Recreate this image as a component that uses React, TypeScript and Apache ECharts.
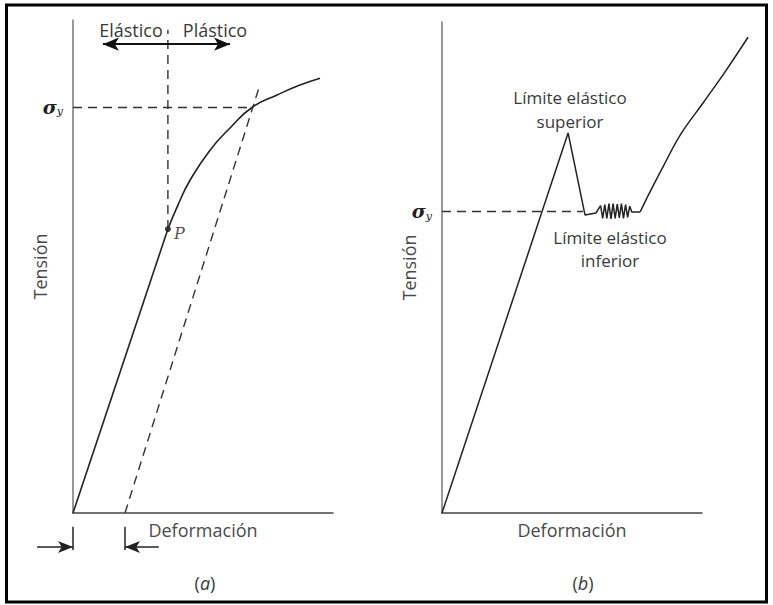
import React, { useEffect, useRef } from "react";
import * as echarts from "echarts";

// ---------- Panel (a): material without a sharp yield point ----------
const aElasticX = [0, 36.5];
const aElasticY = [0, 57.6];
const aPlasticX = [36.5, 40.4, 45.0, 52.7, 60.4, 69.2, 78.5, 87.3, 95.0];
const aPlasticY = [57.6, 62.5, 67.5, 73.6, 78.1, 82.4, 84.8, 86.8, 88.2];
const aUnloadX = [20.0, 71.5];
const aUnloadY = [0, 86.2];
const aSigmaY = 82.4;
const aSigmaEndX = 69.2;
const aPointP = [36.5, 57.6];
const aGuideTopY = 98.0;
const aRangeArrowY = 95.1;
const aRangeArrowX = [11.5, 60.4];
const aStrainTickX = [0, 20.0];
const aStrainTickY = [-2.8, -7.5];
const aStrainArrowY = -6.9;
const aStrainArrowFromX = [-13.8, 33.0];

// ---------- Panel (b): material with upper / lower yield point ----------
// elastic rise, upper yield, drop, lower-yield serrations
const bX = [0, 48.5, 55.0, 59.2,
  61.0, 61.8, 62.6, 63.4, 64.2, 65.0, 65.8, 66.6, 67.4, 68.2, 69.0, 69.8, 70.6, 71.4, 72.2, 73.0,
  76.2];
const bY = [0, 77.4, 60.7, 61.1,
  62.6, 60.0, 62.8, 60.0, 63.0, 59.9, 63.0, 60.0, 62.9, 60.1, 63.0, 60.0, 62.8, 60.2, 62.5, 61.3,
  61.3];
// strain hardening part
const bHardX = [76.2, 80.0, 85.0, 91.9, 100.4, 108.8, 117.7];
const bHardY = [61.3, 65.4, 70.5, 77.2, 83.5, 89.8, 96.9];
const bSigmaY = 61.5;
const bSigmaEndX = 54.2;

// ---------- Texts ----------
const axisXName = "Deformación";
const axisYName = "Tensión";
const labelElastic = "Elástico";
const labelPlastic = "Plástico";
const labelUpper = "Límite elástico\nsuperior";
const labelLower = "Límite elástico\ninferior";

const zip = (xs: number[], ys: number[]) => xs.map((x, i) => [x, ys[i]]);

const SANS = "'Open Sans', sans-serif";
const TEXT = "#3a3a3a";
const LINE = "#222";

const sigmaLabel = (dist: number) => ({
  show: true,
  position: "start",
  distance: dist,
  formatter: "{s|σ}{sub|y}",
  rich: {
    s: { fontFamily: "'DejaVu Serif'", fontStyle: "italic", fontWeight: "bold", fontSize: 19, color: "#222" },
    sub: { fontFamily: "'DejaVu Serif'", fontStyle: "italic", fontSize: 11, color: "#222", padding: [10, 0, 0, 0] },
  },
});

const hiddenAxis = (gridIndex: number, min: number, max: number) => ({
  type: "value", gridIndex, min, max, show: false,
  axisLine: { show: false }, axisTick: { show: false }, axisLabel: { show: false }, splitLine: { show: false },
});

function makeAxes(gridIndex: number) {
  const x = {
    type: "value", gridIndex, min: 0, max: 100,
    axisLine: { show: true, lineStyle: { color: "#444", width: 1.5 } },
    axisTick: { show: false }, axisLabel: { show: false }, splitLine: { show: false },
    name: axisXName, nameLocation: "middle", nameGap: 8,
    nameTextStyle: { fontFamily: SANS, fontSize: 18, color: "#4a4a4a", verticalAlign: "top" },
  };
  const y = {
    type: "value", gridIndex, min: 0, max: 100,
    axisLine: { show: true, lineStyle: { color: "#777", width: 1.5 } },
    axisTick: { show: false }, axisLabel: { show: false }, splitLine: { show: false },
    name: axisYName, nameLocation: "middle", nameGap: 24, nameRotate: 90,
    nameTextStyle: { fontFamily: SANS, fontSize: 18, color: "#4a4a4a" },
  };
  return { x, y };
}

// pixel scale per value unit (same for visible and overlay grids)
const SX = 2.6;
const SYA = 4.93;
const SYB = 4.91;

export default function App() {
  const ref = useRef<HTMLDivElement>(null);
  useEffect(() => {
    if (!ref.current) return;
    const chart = echarts.init(ref.current, null, { renderer: "svg" });
    const A = makeAxes(0);
    const B = makeAxes(1);
    const dashed = { color: "#333", width: 1.4, type: [9, 6] };
    const solid = { color: LINE, width: 1.6 };
    const tickLine = { color: "#222", width: 1.5, type: "solid" };
    // overlay grid 2 (panel a, extended range), overlay grid 3 (panel b, extended range)
    const base = { xAxisIndex: 2, yAxisIndex: 2, symbol: "none", silent: true };
    const baseB = { xAxisIndex: 3, yAxisIndex: 3, symbol: "none", silent: true };
    const aXMin = -20, aYMin = -16, bXMax = 120;

    chart.setOption({
      animation: false,
      backgroundColor: "#fff",
      grid: [
        { left: 73, top: 20, width: 100 * SX, height: 100 * SYA },
        { left: 442, top: 22, width: 100 * SX, height: 100 * SYB },
        { left: 73 + aXMin * SX, top: 20, width: (100 - aXMin) * SX, height: (100 - aYMin) * SYA },
        { left: 442, top: 22, width: bXMax * SX, height: 100 * SYB },
      ],
      xAxis: [A.x, B.x, hiddenAxis(2, aXMin, 100), hiddenAxis(3, 0, bXMax)],
      yAxis: [A.y, B.y, hiddenAxis(2, aYMin, 100), hiddenAxis(3, 0, 100)],
      series: [
        // (a) elastic straight part
        { ...base, type: "line", data: zip(aElasticX, aElasticY), lineStyle: solid },
        // (a) plastic curved part
        { ...base, type: "line", data: zip(aPlasticX, aPlasticY), smooth: 0.5, lineStyle: solid },
        // (a) unloading line (offset, dashed)
        { ...base, type: "line", data: zip(aUnloadX, aUnloadY), lineStyle: dashed },
        // (a) vertical guide from P
        { ...base, type: "line", data: [aPointP, [aPointP[0], aGuideTopY]], lineStyle: dashed },
        // (a) sigma_y line + annotations
        {
          ...base, type: "line", data: [],
          markLine: {
            silent: true, animation: false, symbol: "none",
            data: [
              [
                { coord: [0, aSigmaY], lineStyle: dashed, label: sigmaLabel(10) },
                { coord: [aSigmaEndX, aSigmaY] },
              ],
              [
                { coord: [aRangeArrowX[0], aRangeArrowY], symbol: "arrow", symbolSize: [10, 16], lineStyle: { color: "#111", width: 2, type: "solid" }, label: { show: false } },
                { coord: [aRangeArrowX[1], aRangeArrowY], symbol: "arrow", symbolSize: [10, 16] },
              ],
              [
                { coord: [aStrainTickX[0], aStrainTickY[0]], lineStyle: tickLine, label: { show: false } },
                { coord: [aStrainTickX[0], aStrainTickY[1]] },
              ],
              [
                { coord: [aStrainTickX[1], aStrainTickY[0]], lineStyle: tickLine, label: { show: false } },
                { coord: [aStrainTickX[1], aStrainTickY[1]] },
              ],
              [
                { coord: [aStrainArrowFromX[0], aStrainArrowY], symbol: "none", lineStyle: tickLine, label: { show: false } },
                { coord: [aStrainTickX[0], aStrainArrowY], symbol: "arrow", symbolSize: [9, 15] },
              ],
              [
                { coord: [aStrainArrowFromX[1], aStrainArrowY], symbol: "none", lineStyle: tickLine, label: { show: false } },
                { coord: [aStrainTickX[1], aStrainArrowY], symbol: "arrow", symbolSize: [9, 15] },
              ],
            ],
          },
        },
        // (a) point P
        {
          xAxisIndex: 2, yAxisIndex: 2, type: "scatter", silent: true,
          data: [aPointP], symbol: "circle", symbolSize: 6, itemStyle: { color: "#111" },
          label: {
            show: true, position: "right", distance: 3, offset: [0, 4], formatter: "P",
            fontFamily: "'DejaVu Serif'", fontStyle: "italic", fontSize: 16, color: "#222",
          },
        },
        // (b) stress-strain with yield point drop
        { ...baseB, type: "line", data: zip(bX, bY), lineStyle: { color: LINE, width: 1.5 } },
        // (b) strain hardening
        { ...baseB, type: "line", data: zip(bHardX, bHardY), smooth: 0.4, lineStyle: { color: LINE, width: 1.5 } },
        // (b) sigma_y
        {
          ...baseB, type: "line", data: [],
          markLine: {
            silent: true, animation: false, symbol: "none",
            data: [[
              { coord: [0, bSigmaY], lineStyle: dashed, label: sigmaLabel(10) },
              { coord: [bSigmaEndX, bSigmaY] },
            ]],
          },
        },
      ],
      graphic: [
        { type: "rect", shape: { x: 6.5, y: 5, width: 760, height: 597 }, style: { fill: "none", stroke: "#000", lineWidth: 3 }, silent: true },
        { type: "text", x: 131, y: 30, style: { text: labelElastic, font: `18px ${SANS}`, fill: TEXT, align: "center", verticalAlign: "middle" } },
        { type: "text", x: 215, y: 30, style: { text: labelPlastic, font: `18px ${SANS}`, fill: TEXT, align: "center", verticalAlign: "middle" } },
        {
          type: "text", x: 205, y: 583,
          style: {
            text: "({i|a})", font: `18px ${SANS}`, fill: TEXT, align: "center", verticalAlign: "middle",
            rich: { i: { fontFamily: SANS, fontStyle: "italic", fontSize: 18, fill: TEXT } },
          },
        },
        {
          type: "text", x: 583, y: 583,
          style: {
            text: "({i|b})", font: `18px ${SANS}`, fill: TEXT, align: "center", verticalAlign: "middle",
            rich: { i: { fontFamily: SANS, fontStyle: "italic", fontSize: 18, fill: TEXT } },
          },
        },
        { type: "text", x: 570, y: 109, style: { text: labelUpper, font: `17px ${SANS}`, fill: TEXT, align: "center", verticalAlign: "middle", lineHeight: 24 } },
        { type: "text", x: 610, y: 249, style: { text: labelLower, font: `17px ${SANS}`, fill: TEXT, align: "center", verticalAlign: "middle", lineHeight: 23 } },
      ],
    });
    return () => chart.dispose();
  }, []);
  return <div ref={ref} style={{ position: "fixed", left: 0, top: 0, width: 773, height: 605 }} />;
}
